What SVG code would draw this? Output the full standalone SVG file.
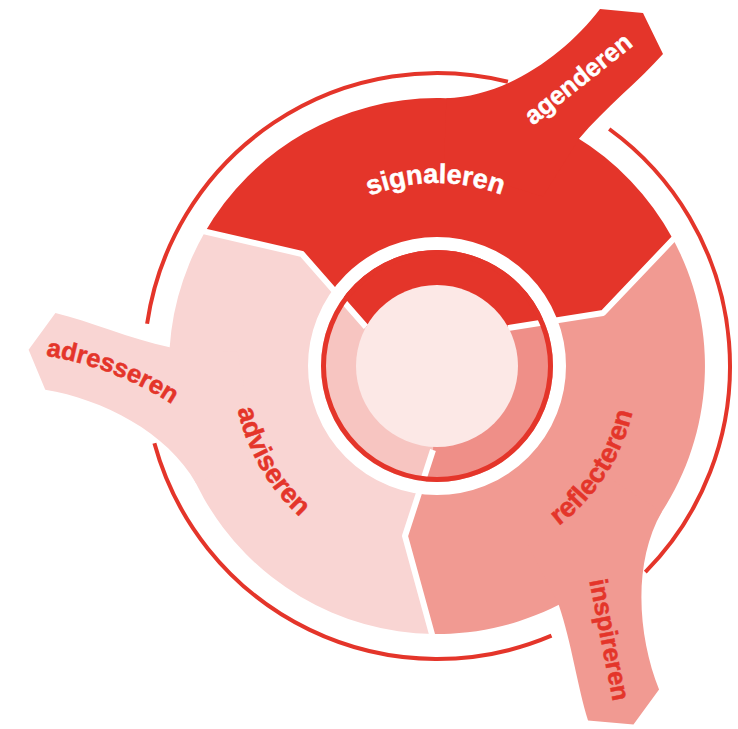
<svg xmlns="http://www.w3.org/2000/svg" width="738" height="729" viewBox="0 0 738 729">
<style>
.red{fill:#E4352A}
.pink{fill:#F9D5D3}
.salmon{fill:#F19A92}
.ipink{fill:#F7C5C1}
.isalmon{fill:#EF8F88}
.lbl{font-family:"Liberation Sans",Arial,sans-serif;font-weight:bold;font-size:27px;stroke-width:0.5px}
.tl{font-size:25.5px}
.w{fill:#ffffff;stroke:#ffffff}
.rt{fill:#E4352A;stroke:#E4352A}
.sep{fill:none;stroke:#ffffff;stroke-width:6;stroke-linejoin:round}
.thin{fill:none;stroke:#E4352A;stroke-width:4}
</style>
<defs>
<path id="tail" d="M 9.4,-267.8 C 68,-269 128,-311 163,-357 L 206,-353 L 226,-312 C 203,-286 168,-258 142,-227.3 L 106,-169.6 L 7,-199.9 Z"/>
<path id="arcSig" d="M 318.2,226.8 A 183 183 0 0 1 553.4,224.8"/>
<path id="arcAdv" d="M 240,313.2 A 204 204 0 0 0 384.2,563"/>
<path id="arcRef" d="M 478.8,562.6 A 201 201 0 0 0 633.6,324.2"/>
<path id="arcAdr" d="M 23.9,353.2 A 323 323 0 0 1 190.1,417.1"/>
</defs>
<rect width="738" height="729" fill="#ffffff"/>
<g id="outer-circle">
<path class="thin" d="M 609.2,129 A 293 293 0 0 1 645.3,572.1"/>
<path class="thin" d="M 551.5,635.7 A 293 293 0 0 1 154.4,443.3"/>
<path class="thin" d="M 147.1,323.7 A 293 293 0 0 1 507.9,81.7"/>
</g>
<g id="signaleren">
<path class="red" d="M 437,366 L 366,327 L 302,254 L 204.5,232.7 A 268 268 0 0 1 672.5,238.2 L 603,313 L 508,328 Z"/>
<use href="#tail" class="red" transform="translate(437 366)"/>
<text class="lbl w"><textPath href="#arcSig" startOffset="50%" text-anchor="middle">signaleren</textPath></text>
<text class="lbl tl w" text-anchor="middle" transform="translate(583.4 85.5) rotate(-38.5)">agenderen</text>
</g>
<g id="reflecteren">
<path class="salmon" d="M 437,366 L 508,328 L 603,313 L 672.5,238.2 A 268 268 0 0 1 433,634 L 405,536 L 433,450 Z"/>
<use href="#tail" class="salmon" transform="translate(437 366) rotate(121)"/>
<text class="lbl rt"><textPath href="#arcRef" startOffset="50%" text-anchor="middle">reflecteren</textPath></text>
<text class="lbl tl rt" text-anchor="middle" transform="translate(601.1 641.3) rotate(79)">inspireren</text>
</g>
<g id="adviseren">
<path class="pink" d="M 437,366 L 433,450 L 405,536 L 433,634 A 268 268 0 0 1 204.5,232.7 L 302,254 L 366,327 Z"/>
<use href="#tail" class="pink" transform="translate(437 366) rotate(242)"/>
<text class="lbl rt"><textPath href="#arcAdv" startOffset="50%" text-anchor="middle">adviseren</textPath></text>
<text class="lbl tl rt"><textPath href="#arcAdr" startOffset="50%" text-anchor="middle">adresseren</textPath></text>
</g>
<g id="inner-ring">
<path class="red" d="M 437,366 L 366,327 L 336,293 A 125 125 0 0 1 553.6,320.8 L 508,328 Z"/>
<path class="isalmon" d="M 437,366 L 508,328 L 553.6,320.8 A 125 125 0 0 1 420,490 L 433,450 Z"/>
<path class="ipink" d="M 437,366 L 433,450 L 420,490 A 125 125 0 0 1 336,293 L 366,327 Z"/>
</g>
<g id="connectors">
<polyline class="sep" points="366,327 302,254 201,230.7"/>
<polyline class="sep" points="508,328 603,313 676,236.3"/>
<polyline class="sep" points="433,450 405,536 433,638"/>
</g>
<g id="center">
<circle cx="437" cy="366" r="122.5" fill="none" stroke="#ffffff" stroke-width="13"/>
<circle cx="437" cy="366" r="113.5" fill="none" stroke="#E4352A" stroke-width="5"/>
<circle cx="437" cy="366" r="81" fill="#FCE8E6"/>
</g>
</svg>
